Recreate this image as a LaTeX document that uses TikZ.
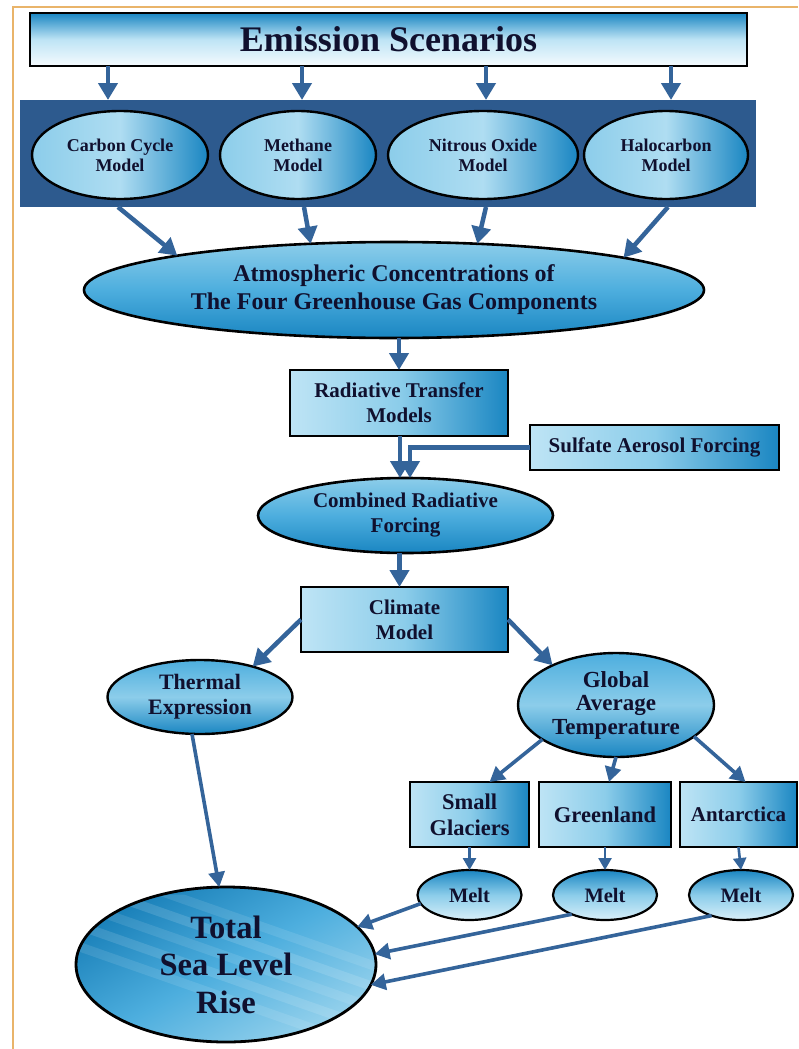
\documentclass[tikz,border=0pt]{standalone}
\usepackage{fontspec}
\setmainfont{Liberation Serif}
\usetikzlibrary{shapes.geometric,arrows.meta,calc}
\definecolor{arrowc}{HTML}{34649A}
\definecolor{bandc}{HTML}{2D5A8E}
\definecolor{txt}{HTML}{10102E}
\definecolor{pale}{HTML}{BEE4F5}
\definecolor{lightb}{HTML}{8CCDEA}
\definecolor{midb}{HTML}{4DAEDE}
\definecolor{deep}{HTML}{1A86C2}
\definecolor{orng}{HTML}{E9B46A}
\begin{document}
\begin{tikzpicture}[x=1pt,y=-1pt,
  every node/.style={text=txt, align=center, inner sep=0pt, outer sep=0pt},
  box/.style={rectangle, draw=black, line width=2.6pt, left color=pale, right color=deep, middle color=lightb},
  esbox/.style={rectangle, draw=black, line width=2.8pt, top color=deep, bottom color=white!85!pale, middle color=pale},
  mell/.style={ellipse, draw=black, line width=2.4pt, left color=lightb, right color=deep, middle color=pale!70!lightb},
  vell/.style={ellipse, draw=black, line width=2.6pt, top color=lightb, bottom color=deep, middle color=midb},
  gell/.style={ellipse, draw=black, line width=2.4pt, top color=midb, bottom color=deep, middle color=lightb},
  melt/.style={ellipse, draw=black, line width=2.2pt, top color=deep, bottom color=pale!60!white, middle color=lightb,
     minimum width=104pt, minimum height=50pt, font=\bfseries\fontsize{20.5}{24}\selectfont},
  arr/.style={draw=arrowc, line width=4.5pt, -{Triangle[length=17pt,width=19pt]}},
  arrm/.style={draw=arrowc, line width=3.6pt, -{Triangle[length=15pt,width=16pt]}},
  arrs/.style={draw=arrowc, line width=2.6pt, -{Triangle[length=12pt,width=13pt]}},
  f18/.style={font=\bfseries\fontsize{18}{20}\selectfont},
  f21/.style={font=\bfseries\fontsize{21}{25}\selectfont},
  f22/.style={font=\bfseries\fontsize{22}{25}\selectfont}
]
\useasboundingbox (0,0) rectangle (798,1049);
\fill[white] (0,0) rectangle (798,1049);
\draw[orng, line width=1.5pt] (13,1049) -- (13,7) -- (798,7);

% top
\node[esbox, minimum width=717pt, minimum height=53pt, font=\bfseries\fontsize{36}{40}\selectfont] (es) at (388.5,39.5) {Emission Scenarios};
\node[rectangle, fill=bandc, minimum width=736pt, minimum height=107pt] (band) at (388,153.5) {};
\node[mell, f18, minimum width=176pt, minimum height=88pt] (cc) at (120,155) {Carbon Cycle\\Model};
\node[mell, f18, minimum width=156pt, minimum height=88pt] (meth) at (298,155) {Methane\\Model};
\node[mell, f18, minimum width=190pt, minimum height=88pt] (n2o) at (483,155) {Nitrous Oxide\\Model};
\node[mell, f18, minimum width=164pt, minimum height=88pt] (halo) at (666,155) {Halocarbon\\Model};

\node[vell, minimum width=620pt, minimum height=96pt, font=\bfseries\fontsize{24}{28}\selectfont] (atm) at (394,290)
  {Atmospheric Concentrations of\\The Four Greenhouse Gas Components};

\node[box, f21, minimum width=218pt, minimum height=66pt] (rtm) at (399,403) {Radiative Transfer\\Models};
\node[box, f21, minimum width=249pt, minimum height=45pt] (sulf) at (654.5,447.5) {Sulfate Aerosol Forcing};
\node[vell, f21, minimum width=295pt, minimum height=75pt] (comb) at (405.5,515.5) {Combined Radiative\\Forcing};
\node[box, f21, minimum width=207pt, minimum height=65pt] (clim) at (404.5,619.5) {Climate\\Model};

\node[gell, f22, minimum width=185pt, minimum height=74pt] (therm) at (200,697) {Thermal\\Expression};
\node[gell, font=\bfseries\fontsize{23}{23.5}\selectfont, minimum width=196pt, minimum height=104pt] (gat) at (616,705) {Global\\Average\\Temperature};

\node[box, font=\bfseries\fontsize{22.5}{26}\selectfont, minimum width=119pt, minimum height=65pt] (sg) at (469.5,814.5) {Small\\Glaciers};
\node[box, font=\bfseries\fontsize{22.5}{26}\selectfont, minimum width=132pt, minimum height=65pt] (gl) at (605,814.5) {Greenland};
\node[box, f21, minimum width=117pt, minimum height=65pt] (ant) at (738.5,814.5) {Antarctica};

\node[melt] (m1) at (469.5,895) {Melt};
\node[melt] (m2) at (605,895) {Melt};
\node[melt] (m3) at (741,895) {Melt};

\node[ellipse, draw=black, line width=2.8pt, minimum width=300pt, minimum height=155pt,
  left color=deep!95!black, right color=lightb!80!pale, middle color=midb, shading angle=30,
  font=\bfseries\fontsize{32.5}{37.5}\selectfont,
  path picture={
    \foreach \d/\o in {-110/0.10,-50/0.12,10/0.10,70/0.13,130/0.10}{
      \fill[white, opacity=\o] ($(path picture bounding box.center)+(\d,0)+(-200,-70)$) -- ++(400,140) -- ++(28,0) -- ++(-400,-140) -- cycle;
    }
  }] (total) at (226,964.5) {Total\\Sea Level\\Rise};

% connectors
\coordinate (e1) at ($(cc.north |- es.south)+(-12,0)$);
\coordinate (e2) at ($(meth.north |- es.south)+(4,0)$);
\coordinate (e3) at ($(n2o.north |- es.south)+(3,0)$);
\coordinate (e4) at ($(halo.north |- es.south)+(5,0)$);
\foreach \c in {e1,e2,e3,e4}{\draw[arr] (\c) -- (\c |- band.north);}

\coordinate (b1) at ($(cc.south |- band.south)+(-2,0)$);
\coordinate (b2) at ($(meth.south |- band.south)+(6,0)$);
\coordinate (b3) at ($(n2o.south |- band.south)+(3,0)$);
\coordinate (b4) at ($(halo.south |- band.south)+(2,0)$);
\draw[arr] (b1) -- (atm.171);
\draw[arr] (b2) -- (atm.151);
\draw[arr] (b3) -- (atm.29);
\draw[arr] (b4) -- (atm.8);

\draw[arr] (atm.south -| rtm.north) -- (rtm.north);
\coordinate (r1) at ($(rtm.south)+(1,0)$);
\coordinate (r2) at ($(comb.north)+(4.5,0)$);
\draw[arr] (r1) -- (r1 |- comb.north);
\draw[arr] (sulf.west) -| (r2);
\coordinate (c3) at ($(comb.south)+(-6,0)$);
\draw[arr] (c3) -- (c3 |- clim.north);
\draw[arr] (clim.west) -- (therm.30);
\draw[arr] (clim.east) -- (gat.148);

\draw[arrm] (gat.205) -- ($(sg.north)+(20,0)$);
\draw[arrm] (gat.south) -- ($(gl.north)+(4,0)$);
\draw[arrm] (gat.338) -- ($(ant.north)+(7,0)$);

\draw[arrs] (sg.south) -- (m1.north);
\draw[arrs] (gl.south) -- (m2.north);
\draw[arrs] (ant.south) -- (m3.north);

\draw[arrm] ($(therm.south)+(-8,0)$) -- (total.95);
\draw[arrm] (m1.190) -- (total.16);
\draw[arrm] (m2.210) -- (total.4);
\draw[arrm] (m3.215) -- (total.352);
\end{tikzpicture}
\end{document}
